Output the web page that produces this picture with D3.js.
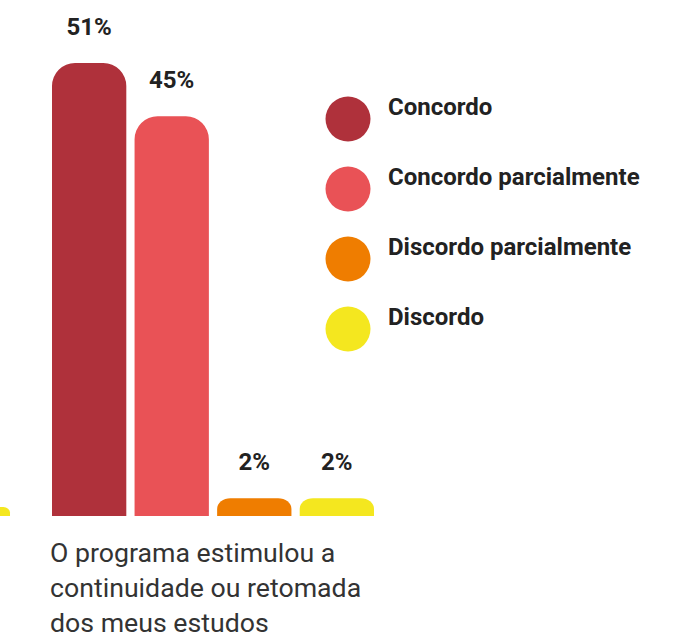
<!DOCTYPE html>
<html>
<head>
<meta charset="utf-8">
<script src="https://cdn.jsdelivr.net/npm/d3@7"></script>
<style>
  html, body { margin: 0; padding: 0; background: #ffffff; }
  svg { display: block; }
  text { font-family: Roboto, "Noto Sans", Arial, sans-serif; }
</style>
</head>
<body>
<svg id="chart" width="681" height="636"></svg>
<script>
// Answer categories, in legend order
const categories = ["Concordo", "Concordo parcialmente", "Discordo parcialmente", "Discordo"];
// Share of respondents (%) for the statement
const values = [51, 45, 2, 2];
const colors = ["#AF313B", "#E95256", "#EF7D00", "#F4E71F"];
const statement = "O programa estimulou a continuidade ou retomada dos meus estudos";
// Last bar of the preceding statement group (only its "Discordo" bar enters the frame)
const prevGroupDiscordo = 1;

const svg = d3.select("#chart");

const baseline = 516;
const x = d3.scaleBand()
  .domain(categories)
  .range([52, 374])
  .paddingInner(0.1)
  .paddingOuter(0);

const y = d3.scaleLinear()
  .domain([0, 51])
  .range([baseline, 63]);

const groupGap = 42;
const maxRadius = 23;

// Bar with rounded top corners, square bottom
function roundedTop(x0, y0, w, h) {
  const rx = Math.min(maxRadius, h * 0.75, w / 2);
  const ry = Math.min(maxRadius, h * 0.6);
  return `M${x0},${y0 + h}` +
    `L${x0},${y0 + ry}` +
    `A${rx},${ry} 0 0 1 ${x0 + rx},${y0}` +
    `L${x0 + w - rx},${y0}` +
    `A${rx},${ry} 0 0 1 ${x0 + w},${y0 + ry}` +
    `L${x0 + w},${y0 + h}Z`;
}

const bw = x.bandwidth();

// Preceding group's last bar, partly outside the frame
const prevX = x(categories[0]) - groupGap - bw;
svg.append("path")
  .attr("d", roundedTop(prevX, y(prevGroupDiscordo), bw, baseline - y(prevGroupDiscordo)))
  .attr("fill", colors[3]);

const data = categories.map((c, i) => ({ cat: c, value: values[i], color: colors[i] }));

svg.append("g").selectAll("path")
  .data(data)
  .join("path")
  .attr("d", d => roundedTop(x(d.cat), y(d.value), bw, baseline - y(d.value)))
  .attr("fill", d => d.color);

// Value labels above bars
svg.append("g").selectAll("text")
  .data(data)
  .join("text")
  .attr("x", d => x(d.cat) + bw / 2)
  .attr("y", d => y(d.value) - 28)
  .attr("text-anchor", "middle")
  .attr("font-size", 24)
  .attr("font-weight", 700)
  .attr("fill", "#222222")
  .text(d => d.value + "%");

// Statement label under the group, wrapped
const labelWidth = 320;
const label = svg.append("text")
  .attr("x", 50)
  .attr("y", 562)
  .attr("font-size", 26.7)
  .attr("fill", "#333333");
{
  const words = statement.split(" ");
  let line = [];
  let tspan = label.append("tspan").attr("x", 50).attr("dy", 0);
  words.forEach(w => {
    line.push(w);
    tspan.text(line.join(" "));
    if (tspan.node().getComputedTextLength() > labelWidth && line.length > 1) {
      line.pop();
      tspan.text(line.join(" "));
      line = [w];
      tspan = label.append("tspan").attr("x", 50).attr("dy", 35).text(w);
    }
  });
}

// Legend
const legendY = d3.scalePoint()
  .domain(categories)
  .range([119, 329]);

const legend = svg.append("g").selectAll("g")
  .data(data)
  .join("g")
  .attr("transform", d => `translate(348,${legendY(d.cat)})`);

legend.append("circle")
  .attr("r", 22.5)
  .attr("fill", d => d.color);

legend.append("text")
  .attr("x", 40)
  .attr("y", -4)
  .attr("font-size", 24)
  .attr("font-weight", 700)
  .attr("fill", "#222222")
  .text(d => d.cat);
</script>
</body>
</html>
